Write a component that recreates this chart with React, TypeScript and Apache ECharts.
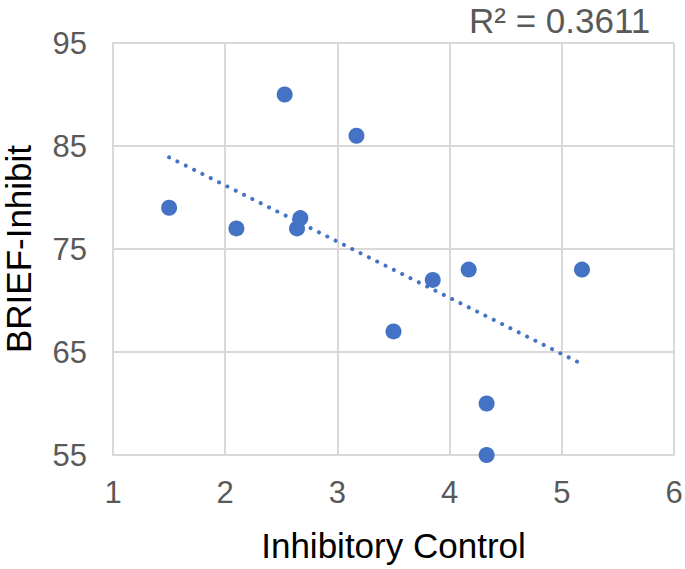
import React, { useEffect, useRef } from "react";
import * as echarts from "echarts";

// Inhibitory Control (x) vs BRIEF-Inhibit (y)
const inhibitoryControl = [1.5, 2.1, 2.53, 2.64, 2.67, 3.17, 3.5, 3.85, 4.17, 4.33, 4.33, 5.18];
const briefInhibit = [79, 77, 90, 77, 78, 86, 67, 72, 73, 60, 55, 73];
const rSquaredLabel = "R² = 0.3611";
const xAxisTitle = "Inhibitory Control";
const yAxisTitle = "BRIEF-Inhibit";

const FONT = "'Liberation Sans', Arial, Helvetica, sans-serif";
const BLUE = "#4472C4";
const GRID = "#d9d9d9";

function linearFit(xs: number[], ys: number[]) {
  const n = xs.length;
  const mx = xs.reduce((a, b) => a + b, 0) / n;
  const my = ys.reduce((a, b) => a + b, 0) / n;
  let sxy = 0;
  let sxx = 0;
  for (let i = 0; i < n; i++) {
    sxy += (xs[i] - mx) * (ys[i] - my);
    sxx += (xs[i] - mx) * (xs[i] - mx);
  }
  const slope = sxy / sxx;
  return { slope, intercept: my - slope * mx };
}

export default function App() {
  const ref = useRef<HTMLDivElement>(null);
  useEffect(() => {
    if (!ref.current) return;
    const chart = echarts.init(ref.current, null, { renderer: "svg" });
    const { slope, intercept } = linearFit(inhibitoryControl, briefInhibit);
    const xmin = Math.min(...inhibitoryControl);
    const xmax = Math.max(...inhibitoryControl);
    const trend = [
      [xmin, intercept + slope * xmin],
      [xmax, intercept + slope * xmax],
    ];
    chart.setOption({
      animation: false,
      backgroundColor: "#ffffff",
      textStyle: { fontFamily: FONT },
      grid: {
        left: 113,
        right: 11,
        top: 43,
        bottom: 114,
        containLabel: false,
        outerBoundsMode: "none",
      },
      xAxis: {
        type: "value",
        min: 1,
        max: 6,
        interval: 1,
        name: xAxisTitle,
        nameLocation: "middle",
        nameGap: 73,
        nameTextStyle: { fontSize: 35, color: "#000000", fontFamily: FONT },
        axisLine: { show: true, lineStyle: { color: GRID, width: 2 } },
        axisTick: { show: false },
        axisLabel: { fontSize: 31, color: "#595959", margin: 22, fontFamily: FONT },
        splitLine: { show: true, lineStyle: { color: GRID, width: 2 } },
      },
      yAxis: {
        type: "value",
        min: 55,
        max: 95,
        interval: 10,
        name: yAxisTitle,
        nameLocation: "middle",
        nameRotate: 90,
        nameGap: 81,
        nameTextStyle: { fontSize: 35, lineHeight: 28, color: "#000000", fontFamily: FONT },
        axisLine: { show: true, lineStyle: { color: GRID, width: 2 } },
        axisTick: { show: false },
        axisLabel: { fontSize: 31, color: "#595959", margin: 26, fontFamily: FONT },
        splitLine: { show: true, lineStyle: { color: GRID, width: 2 } },
      },
      graphic: [
        {
          type: "text",
          left: 469,
          top: 3,
          style: {
            text: rSquaredLabel,
            fontSize: 35,
            lineHeight: 28,
            fill: "#595959",
            fontFamily: FONT,
          },
        },
      ],
      series: [
        {
          type: "scatter",
          data: inhibitoryControl.map((x, i) => [x, briefInhibit[i]]),
          symbol: "circle",
          symbolSize: 16,
          itemStyle: { color: BLUE, opacity: 1 },
          clip: false,
          z: 2,
        },
        {
          type: "line",
          data: trend,
          symbol: "none",
          lineStyle: { color: BLUE, width: 4, type: [0.01, 9.3], cap: "round", opacity: 1 },
          silent: true,
          z: 3,
        },
      ],
    });
    return () => chart.dispose();
  }, []);
  return (
    <div
      ref={ref}
      style={{ position: "absolute", left: 0, top: 0, width: 685, height: 569, background: "#fff" }}
    />
  );
}
